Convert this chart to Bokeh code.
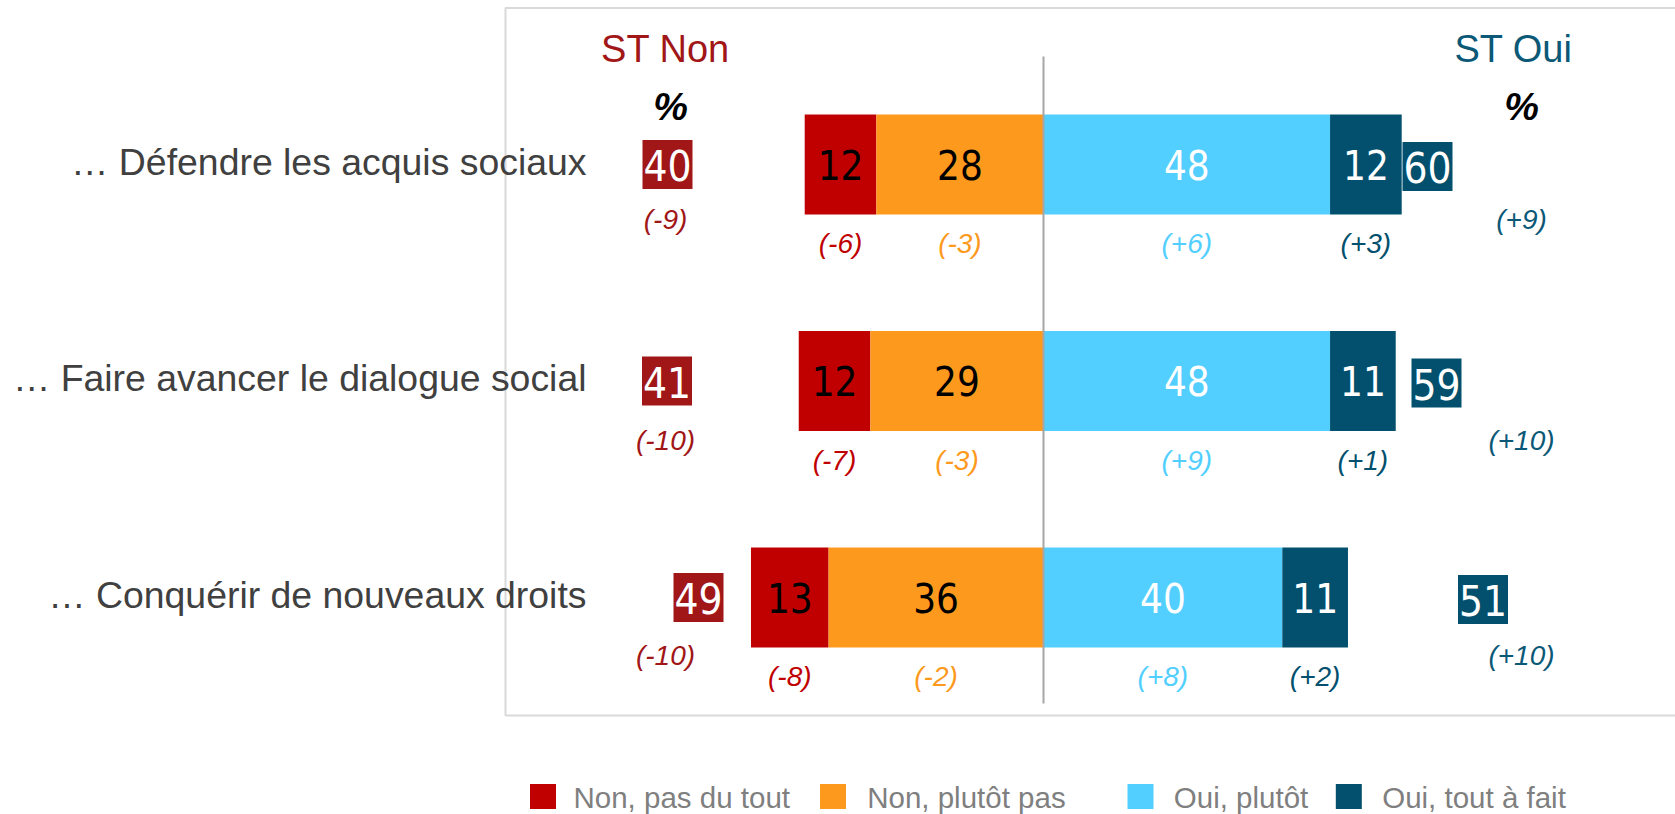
from bokeh.plotting import figure
from bokeh.models import Range1d
from bokeh.embed import file_html
from bokeh.resources import INLINE
from bokeh.core.properties import value

# ---------------- data ----------------
categories = ["… Défendre les acquis sociaux",
              "… Faire avancer le dialogue social",
              "… Conquérir de nouveaux droits"]
non_pas_du_tout = [12, 12, 13]
non_plutot_pas = [28, 29, 36]
oui_plutot = [48, 48, 40]
oui_tout_a_fait = [12, 11, 11]
st_non = [40, 41, 49]
st_oui = [60, 59, 51]
evo_non_pas_du_tout = [-6, -7, -8]
evo_non_plutot_pas = [-3, -3, -2]
evo_oui_plutot = [6, 9, 8]
evo_oui_tout_a_fait = [3, 1, 2]
evo_st_non = [-9, -10, -10]
evo_st_oui = [9, 10, 10]
legend_labels = ["Non, pas du tout", "Non, plutôt pas", "Oui, plutôt", "Oui, tout à fait"]
header_labels = ["ST Non", "ST Oui"]
unit_label = "%"

# ---------------- layout (pixels of the figure) ----------------
W, H = 1675, 814
X0_PX = 1043.0
PX_PER_UNIT = 5.97
ROW0_PX = 164.0
ROW_STEP_PX = 216.5

def xd(px):
    return (px - X0_PX) / PX_PER_UNIT

def yd(px):
    return (px - ROW0_PX) / ROW_STEP_PX

def row_y(i, off):
    return yd(ROW0_PX + i * ROW_STEP_PX + off)

rows = list(range(len(categories)))
bar_h = 100 / ROW_STEP_PX

C_RED = "#C00000"
C_ORANGE = "#FD9A1E"
C_LBLUE = "#53CFFF"
C_DARK = "#02506D"
C_STNON = "#A11616"
C_STOUI = "#0B5877"
C_LABEL = "#404040"
C_LEGEND = "#7F7F7F"

NUM_FONT = value("DejaVu Sans Condensed")
TXT_FONT = value("Liberation Sans")

p = figure(width=W, height=H, output_backend="svg", toolbar_location=None,
           x_range=Range1d(xd(0), xd(W)), y_range=Range1d(yd(H), yd(0)),
           min_border=0, background_fill_color="white", border_fill_color="white")
p.axis.visible = False
p.grid.visible = False
p.outline_line_color = None

# frame
p.quad(left=[xd(505)], right=[xd(W + 20)], top=[yd(7.5)], bottom=[yd(715)],
       fill_color=None, line_color="#D9D9D9", line_width=2)

# bars
left_red = [-(a + b) for a, b in zip(non_pas_du_tout, non_plutot_pas)]
right_red = [-b for b in non_plutot_pas]
left_or = [-b for b in non_plutot_pas]
right_or = [0 for _ in rows]
left_lb = [0 for _ in rows]
right_lb = list(oui_plutot)
left_dk = list(oui_plutot)
right_dk = [a + b for a, b in zip(oui_plutot, oui_tout_a_fait)]

segments = [
    (left_red, right_red, non_pas_du_tout, evo_non_pas_du_tout, C_RED, "black", C_RED),
    (left_or, right_or, non_plutot_pas, evo_non_plutot_pas, C_ORANGE, "black", C_ORANGE),
    (left_lb, right_lb, oui_plutot, evo_oui_plutot, C_LBLUE, "white", C_LBLUE),
    (left_dk, right_dk, oui_tout_a_fait, evo_oui_tout_a_fait, C_DARK, "white", C_DARK),
]
for l, r, vals, evo, col, tcol, ecol in segments:
    p.hbar(y=rows, left=l, right=r, height=bar_h, fill_color=col, line_color=None)
for l, r, vals, evo, col, tcol, ecol in segments:
    mids = [(a + b) / 2 for a, b in zip(l, r)]
    p.text(x=mids, y=[row_y(i, 0) for i in rows],
           text=[str(v) for v in vals], text_font=NUM_FONT, text_font_size="40px",
           text_color=tcol, text_align="center", text_baseline="middle")
    p.text(x=mids, y=[row_y(i, 79) for i in rows],
           text=[f"({v:+d})" for v in evo], text_font=TXT_FONT, text_font_size="28px",
           text_font_style="italic", text_color=ecol, text_align="center",
           text_baseline="middle")

# centre line
p.segment(x0=[0], x1=[0], y0=[yd(56)], y1=[yd(703)], line_color="#A6A6A6", line_width=2)

# category labels
p.text(x=[xd(586)] * len(rows), y=[row_y(i, -3) for i in rows], text=categories,
       text_font=TXT_FONT, text_font_size="37.4px", text_color=C_LABEL,
       text_align="right", text_baseline="middle")

# headers and % marks
p.text(x=[xd(665), xd(1513)], y=[yd(48), yd(48)], text=header_labels,
       text_font=TXT_FONT, text_font_size="38px", text_color=[C_STNON, C_STOUI],
       text_align="center", text_baseline="middle")
p.text(x=[xd(670), xd(1521)], y=[yd(106), yd(106)], text=[unit_label, unit_label],
       text_font=TXT_FONT, text_font_size="39px", text_font_style="bold italic",
       text_color="black", text_align="center", text_baseline="middle")

# ST boxes
st_non_box_px = [667, 666.5, 698]
st_oui_box_px = [1427, 1436, 1482.5]
box_w = 50 / PX_PER_UNIT
box_h = 49 / ROW_STEP_PX
p.rect(x=[xd(v) for v in st_non_box_px], y=rows, width=box_w, height=box_h,
       fill_color=C_STNON, line_color=None)
p.rect(x=[xd(v) for v in st_oui_box_px], y=[row_y(i, 2) for i in rows],
       width=box_w, height=box_h, fill_color=C_DARK, line_color=None)
p.text(x=[xd(v) for v in st_non_box_px], y=[row_y(i, 1) for i in rows],
       text=[str(v) for v in st_non], text_font=NUM_FONT, text_font_size="42px",
       text_color="white", text_align="center", text_baseline="middle")
p.text(x=[xd(v) for v in st_oui_box_px], y=[row_y(i, 3) for i in rows],
       text=[str(v) for v in st_oui], text_font=NUM_FONT, text_font_size="42px",
       text_color="white", text_align="center", text_baseline="middle")

# ST evolutions
st_evo_off = [55, 59, 58]
p.text(x=[xd(665)] * len(rows), y=[row_y(i, st_evo_off[i]) for i in rows],
       text=[f"({v:+d})" for v in evo_st_non], text_font=TXT_FONT, text_font_size="28px",
       text_font_style="italic", text_color=C_STNON, text_align="center",
       text_baseline="middle")
p.text(x=[xd(1521)] * len(rows), y=[row_y(i, st_evo_off[i]) for i in rows],
       text=[f"({v:+d})" for v in evo_st_oui], text_font=TXT_FONT, text_font_size="28px",
       text_font_style="italic", text_color=C_STOUI, text_align="center",
       text_baseline="middle")

# legend
leg_sq_px = [542.5, 832.5, 1140, 1348.3]
leg_txt_px = [573, 866.7, 1173.3, 1381.7]
leg_colors = [C_RED, C_ORANGE, C_LBLUE, C_DARK]
p.rect(x=[xd(v) for v in leg_sq_px], y=[yd(796)] * 4, width=26 / PX_PER_UNIT,
       height=25 / ROW_STEP_PX, fill_color=leg_colors, line_color=None)
p.text(x=[xd(v) for v in leg_txt_px], y=[yd(797)] * 4, text=legend_labels,
       text_font=TXT_FONT, text_font_size="29.5px", text_color=C_LEGEND,
       text_align="left", text_baseline="middle")

open("out.html", "w").write(file_html(p, INLINE))
